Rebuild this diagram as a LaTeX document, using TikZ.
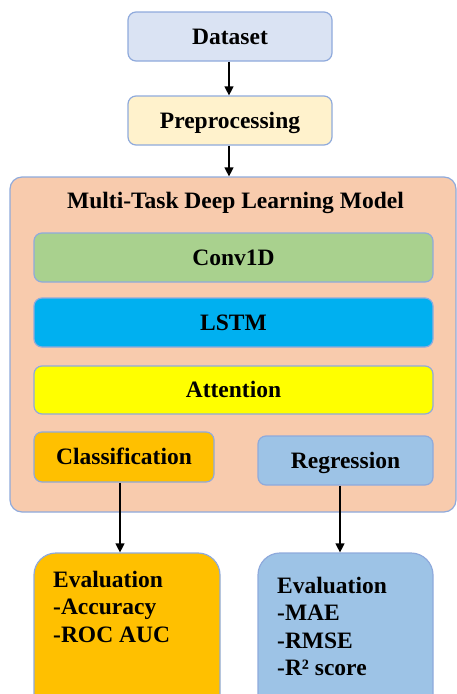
\documentclass[tikz,border=0pt]{standalone}
\usepackage{fontspec}
\setmainfont{Liberation Serif}
\usetikzlibrary{arrows.meta}
\definecolor{edgeblue}{RGB}{143,170,220}
\definecolor{dsfill}{HTML}{DAE3F3}
\definecolor{ppfill}{HTML}{FFF2CC}
\definecolor{modelfill}{HTML}{F8CBAD}
\definecolor{convfill}{HTML}{A9D18E}
\definecolor{lstmfill}{HTML}{00B0F0}
\definecolor{attfill}{HTML}{FFFF00}
\definecolor{clsfill}{HTML}{FFC000}
\definecolor{regfill}{HTML}{9DC3E6}
\begin{document}
\begin{tikzpicture}[x=1pt,y=-1pt,
  labelfont/.style={font=\fontsize{23.5}{27.4}\selectfont\bfseries},
  box/.style={draw=edgeblue, line width=1.2pt, rounded corners=8pt, inner sep=0pt,
    text height=15.6pt, text depth=0pt, labelfont},
  evalbox/.style={draw=edgeblue, line width=1.2pt, rounded corners=22pt, inner sep=0pt},
  evaltext/.style={anchor=north west, align=left, inner sep=0pt, labelfont},
  flow/.style={draw=black, line width=1.2pt, -{Triangle[width=9pt,length=9pt]}}]
\useasboundingbox (0,0) rectangle (457,694);
\clip (0,0) rectangle (457,694);

% input stages
\node[box, fill=dsfill, minimum width=204pt, minimum height=49pt] (dataset) at (230,36.5) {Dataset};
\node[box, fill=ppfill, minimum width=204pt, minimum height=49pt] (prep) at (230,120.5) {Preprocessing};

% model container
\node[draw=edgeblue, line width=1.2pt, fill=modelfill, rounded corners=12pt,
  minimum width=446pt, minimum height=335pt, inner sep=0pt] (model) at (233,344.5) {};
\node[box, draw=none, anchor=center] (title) at (235.5,201) {Multi-Task Deep Learning Model};

% model layers
\node[box, fill=convfill, minimum width=399pt, minimum height=49pt] (conv) at (233.5,257.5) {Conv1D};
\node[box, fill=lstmfill, minimum width=399pt, minimum height=49pt] (lstm) at (233.5,322.5) {LSTM};
\node[box, fill=attfill, minimum width=399pt, minimum height=48pt] (att) at (233.5,390) {Attention};

% task heads
\node[box, fill=clsfill, minimum width=180pt, minimum height=50pt] (cls) at (124,457) {Classification};
\node[box, fill=regfill, minimum width=175pt, minimum height=49pt] (reg) at (345.5,460.5) {Regression};

% evaluation boxes
\node[evalbox, fill=clsfill, minimum width=186pt, minimum height=177pt] (evalcls) at (127,641.5) {};
\node[evalbox, fill=regfill, minimum width=175pt, minimum height=177pt] (evalreg) at (345.5,641.5) {};
\node[evaltext] (evalclstext) at (53,571) {Evaluation\\-Accuracy\\-ROC AUC};
\node[evaltext] (evalregtext) at (277,576.8) {Evaluation\\-MAE\\-RMSE\\-R² score};

% connectors
\draw[flow] ([xshift=-1pt]dataset.south) -- ([xshift=-1pt]prep.north);
\draw[flow] ([xshift=-1pt]prep.south) -- ([xshift=-1pt]prep.south |- model.north);
\draw[flow] ([xshift=-4pt]cls.south) -- ([xshift=-4pt]cls.south |- evalcls.north);
\draw[flow] ([xshift=-5.5pt]reg.south) -- ([xshift=-5.5pt]reg.south |- evalreg.north);
\end{tikzpicture}
\end{document}
